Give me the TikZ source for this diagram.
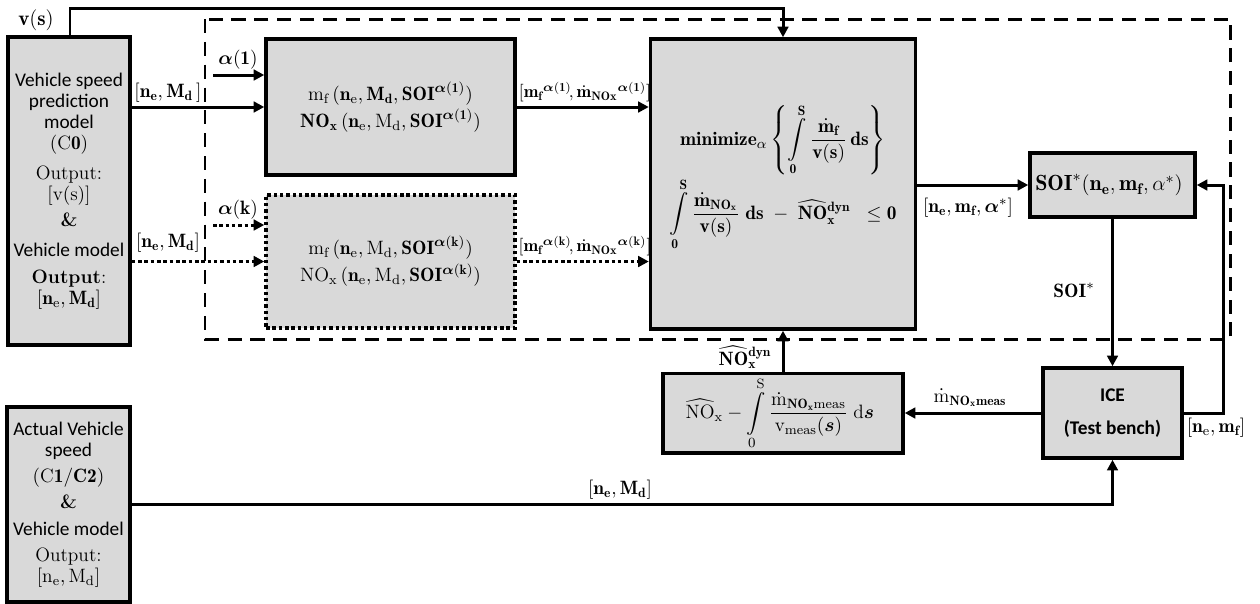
\documentclass[tikz,border=0pt]{standalone}
\usepackage{amsmath, amssymb}
\usepackage{fontspec}
\newfontfamily\calibrifont{Carlito}
\usepackage{tikz}
\usetikzlibrary{arrows.meta, positioning, calc}

\definecolor{boxgray}{RGB}{217,217,217}

\tikzset{
  block/.style={draw, line width=2pt, fill=boxgray, align=center, inner sep=2pt, font=\fontsize{11}{13.5}\selectfont},
  dotblock/.style={block, dash pattern=on 2pt off 1.6pt},
  arr/.style={line width=1.7pt, -{Triangle[length=6pt, width=6pt]}},
  dotarr/.style={arr, dash pattern=on 2pt off 1.6pt},
  lbl/.style={inner sep=1pt, font=\fontsize{11}{13}\selectfont},
}

\begin{document}
\begin{tikzpicture}[x=0.02cm, y=-0.02cm]
        \useasboundingbox (0,0) rectangle (1260,603);

        % --- OPTIMISATION FRAME ---
        \draw[line width=1.7pt, dash pattern=on 8pt off 5pt] (205,19) rectangle (1230,339);

        % --- BLOCKS ---
        \node[block, minimum width=2.44cm, minimum height=6.16cm, font=\calibrifont\fontsize{11}{12}\selectfont] (pred) at (69,191) {
            Vehicle speed\\prediction\\model\\$(\mathrm{C}\mathbf{0})$\\[5pt]
            {\rmfamily Output:}\\$[\mathrm{v}(\mathrm{s})]$\\[3pt]
            {\rmfamily\bfseries \&}\\[5pt]
            Vehicle model\\[3pt]
            {\rmfamily\textbf{Output}:}\\$[\mathbf{n}_{\mathrm{e}},\mathbf{M}_{\mathbf{d}}]$
        };
        \node[block, minimum width=2.46cm, minimum height=3.9cm, font=\calibrifont\fontsize{11}{12}\selectfont] (act) at (68.5,504.5) {
            Actual Vehicle\\speed\\[3pt]
            $(\mathrm{C}\mathbf{1/C2})$\\[3pt]
            {\rmfamily\bfseries \&}\\[3pt]
            Vehicle model\\[3pt]
            {\rmfamily Output:}\\$[\mathrm{n}_{\mathrm{e}},\mathrm{M}_{\mathrm{d}}]$
        };
        \node[block, minimum width=4.98cm, minimum height=2.72cm] (mf) at (390.5,107) {
            $\mathrm{m}_{\mathrm{f}}\,(\mathbf{n}_{\mathrm{e}},\mathbf{M}_{\mathbf{d}},\mathbf{SOI}^{\boldsymbol{\alpha}(\mathbf{1})})$\\[2pt]
            $\mathbf{NO}_{\mathbf{x}}\,(\mathbf{n}_{\mathrm{e}},\mathrm{M}_{\mathrm{d}},\mathbf{SOI}^{\boldsymbol{\alpha}(\mathbf{1})})$
        };
        \node[dotblock, minimum width=4.98cm, minimum height=2.66cm] (mk) at (390.5,261.5) {
            $\mathrm{m}_{\mathrm{f}}\,(\mathbf{n}_{\mathrm{e}},\mathrm{M}_{\mathrm{d}},\mathbf{SOI}^{\boldsymbol{\alpha}(\mathbf{k})})$\\[2pt]
            $\mathrm{NO}_{\mathrm{x}}\,(\mathbf{n}_{\mathrm{e}},\mathrm{M}_{\mathrm{d}},\mathbf{SOI}^{\boldsymbol{\alpha}(\mathbf{k})})$
        };
        \node[block, minimum width=5.3cm, minimum height=5.8cm] (opt) at (783,184) {
            $\displaystyle \mathbf{minimize}_{\alpha}\left\{\int\limits_{\mathbf{0}}^{\mathbf{S}}\frac{\dot{\mathbf{m}}_{\mathbf{f}}}{\mathbf{v(s)}}\,\mathbf{ds}\right\}$\\
            $\displaystyle \int\limits_{\mathbf{0}}^{\mathbf{S}}\frac{\dot{\mathbf{m}}_{\mathbf{NO_x}}}{\mathbf{v(s)}}\;\mathbf{ds}\;-\;\widehat{\mathbf{NO}}{}_{\mathbf{x}}^{\mathbf{dyn}}\;\;\le\mathbf{0}$\\[0.25cm]\mbox{}
        };
        \node[block, minimum width=3.3cm, minimum height=1.28cm, font=\fontsize{12.5}{14}\selectfont] (soi) at (1112.5,185) {
            $\mathbf{SOI}^{*}(\mathbf{n}_{\mathbf{e}},\mathbf{m}_{\mathbf{f}},\alpha^{*})$
        };
        \node[block, minimum width=2.78cm, minimum height=1.8cm, font=\calibrifont\bfseries\fontsize{11}{13}\selectfont] (ice) at (1112.5,413) {
            ICE\\[6pt](Test bench)
        };
        \node[block, minimum width=4.8cm, minimum height=1.54cm] (nox) at (783,413) {
            $\displaystyle \widehat{\mathrm{NO}}_{\mathrm{x}}-\int\limits_{0}^{\mathrm{S}}\frac{\dot{\mathrm{m}}_{\mathbf{NO_x}\mathrm{meas}}}{\mathrm{v}_{\mathrm{meas}}(\boldsymbol{s})}\;\mathrm{d}\boldsymbol{s}$
        };

        % --- CONNECTORS ---
        \coordinate (vtop) at (70,8);
        \coordinate (a1) at (213,75);
        \coordinate (ak) at (213,225);
        \coordinate (loopx) at (1223,300);

        \draw[arr] (pred.north -| vtop) -- (vtop) -| (opt.north);
        \node[lbl, font=\fontsize{12}{14}\selectfont] (vlbl) at (36,20) {$\mathbf{v(s)}$};

        \draw[arr] (a1) -- (mf.west |- a1);
        \node[lbl] (a1lbl) at (238,60) {$\boldsymbol{\alpha}(\mathbf{1})$};
        \draw[arr] (pred.east |- mf.west) -- (mf.west);
        \node[lbl] (nm1lbl) at (168,93) {$[\mathbf{n}_{\mathbf{e}},\mathbf{M}_{\mathbf{d}}\,]$};

        \draw[dotarr] (ak) -- (mk.west |- ak);
        \node[lbl] (aklbl) at (238,210) {$\boldsymbol{\alpha}(\mathbf{k})$};
        \draw[dotarr] (pred.east |- mk.west) -- (mk.west);
        \node[lbl] (nmklbl) at (168,243) {$[\mathbf{n}_{\mathbf{e}},\mathbf{M}_{\mathbf{d}}]$};

        \draw[arr] (mf.east) -- (opt.west |- mf.east);
        \node[lbl, inner sep=0pt, font=\fontsize{10}{12}\selectfont] (mf1lbl) at (585,92) {$[\mathbf{m}_{\mathbf{f}}{}^{\boldsymbol{\alpha}(\mathbf{1})}\!,\dot{\mathbf{m}}_{\mathbf{NOx}}{}^{\boldsymbol{\alpha}(\mathbf{1})}]$};
        \draw[dotarr] (mk.east) -- (opt.west |- mk.east);
        \node[lbl, inner sep=0pt, font=\fontsize{10}{12}\selectfont] (mfklbl) at (585,246) {$[\mathbf{m}_{\mathbf{f}}{}^{\boldsymbol{\alpha}(\mathbf{k})}\!,\dot{\mathbf{m}}_{\mathbf{NOx}}{}^{\boldsymbol{\alpha}(\mathbf{k})}]$};

        \draw[arr] (opt.east |- soi.west) -- (soi.west);
        \node[lbl] (optlbl) at (968,208) {$[\mathbf{n}_{\mathbf{e}},\mathbf{m}_{\mathbf{f}},\boldsymbol{\alpha}^{*}]$};

        \draw[arr] (soi.south) -- (ice.north);
        \node[lbl] (soilbl) at (1074,290) {$\mathbf{SOI}^{*}$};

        \draw[arr] (ice.east) -| (loopx |- soi.east) -- (soi.east);
        \node[lbl] (icelbl) at (1216,428) {$[\mathbf{n}_{\mathrm{e}},\mathbf{m}_{\mathbf{f}}]$};

        \draw[arr] (ice.west) -- (nox.east);
        \node[lbl] (measlbl) at (970,398) {$\dot{\mathrm{m}}_{\mathbf{NO_x}\mathbf{meas}}$};

        \draw[arr] (nox.north) -- (opt.south);
        \node[lbl] (dynlbl) at (745,357) {$\widehat{\mathbf{NO}}{}_{\mathbf{x}}^{\mathbf{dyn}}$};

        \draw[arr] (act.east) -| (ice.south);
        \node[lbl] (actlbl) at (620,490) {$[\mathbf{n}_{\mathbf{e}},\mathbf{M}_{\mathbf{d}}]$};

    \end{tikzpicture}
\end{document}
